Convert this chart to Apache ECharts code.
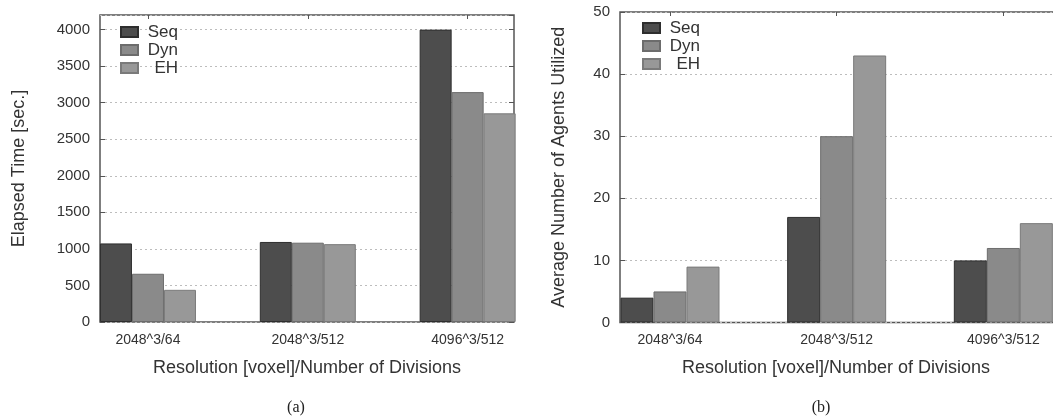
<!DOCTYPE html>
<html><head><meta charset="utf-8">
<script src="https://cdn.jsdelivr.net/npm/echarts@6/dist/echarts.min.js"></script>
<style>html,body{margin:0;padding:0;background:#fff}#c{width:1053px;height:419px}</style>
</head><body><div id="c"></div>
<script>
const categories = ['2048^3/64', '2048^3/512', '4096^3/512'];
const seriesNames = ['Seq', 'Dyn', 'EH'];
const timeSeq = [1075, 1095, 4000];
const timeDyn = [660, 1085, 3145];
const timeEH = [440, 1065, 2855];
const agentsSeq = [4, 17, 10];
const agentsDyn = [5, 30, 12];
const agentsEH = [9, 43, 16];
const xTitle = 'Resolution [voxel]/Number of Divisions';
const yTitleA = 'Elapsed Time [sec.]';
const yTitleB = 'Average Number of Agents Utilized';
const captions = ['(a)', '(b)'];

const FONT = '"Liberation Sans", Arial, Helvetica, sans-serif';
const fills = ['#4d4d4d', '#8a8a8a', '#989898'];
const borders = ['#2e2e2e', '#6c6c6c', '#7a7a7a'];
const catPos = categories.map((c, i) => i);
const pairs = arr => arr.map((v, i) => [catPos[i], v]);

function xAxes(gi, min, max) {
  return [
    { type: 'value', gridIndex: gi, min: min, max: max, position: 'bottom',
      axisLine: { show: false, onZero: false }, axisTick: { show: false }, splitLine: { show: false },
      axisLabel: { customValues: catPos, formatter: v => categories[Math.round(v)],
        fontFamily: FONT, fontSize: 14, color: '#333', margin: 11 } },
    { type: 'value', gridIndex: gi, min: min, max: max, position: 'top',
      axisLine: { show: false, onZero: false }, splitLine: { show: false }, axisLabel: { show: false },
      axisTick: { show: true, inside: true, length: 4, customValues: catPos,
        lineStyle: { color: '#555', width: 1 } } }
  ];
}
function yAxes(gi, max, interval, name, gap) {
  return [
    { type: 'value', gridIndex: gi, min: 0, max: max, interval: interval, position: 'left',
      name: name, nameLocation: 'middle', nameRotate: 90, nameGap: gap,
      nameTextStyle: { fontFamily: FONT, fontSize: 18, color: '#333' },
      axisLine: { show: false, onZero: false },
      axisTick: { show: true, inside: true, length: 5, lineStyle: { color: '#555' } },
      axisLabel: { fontFamily: FONT, fontSize: 15, color: '#333', margin: 10,
        showMaxLabel: max % interval === 0, formatter: v => String(v) },
      splitLine: { show: true, lineStyle: { color: '#bdbdbd', type: [2, 3], width: 1 } } },
    { type: 'value', gridIndex: gi, min: 0, max: max, interval: interval, position: 'right',
      axisLine: { show: false, onZero: false }, axisLabel: { show: false }, splitLine: { show: false },
      axisTick: { show: true, inside: true, length: 5, lineStyle: { color: '#555' } } }
  ];
}
function bars(gi, arrays, width) {
  return arrays.map((arr, k) => ({
    type: 'bar', name: seriesNames[k], xAxisIndex: gi * 2, yAxisIndex: gi * 2,
    data: pairs(arr), barWidth: width, barGap: '0%',
    itemStyle: { color: fills[k], borderColor: borders[k], borderWidth: 1 },
    emphasis: { disabled: true }, animation: false
  }));
}
function legend(left, top) {
  return {
    orient: 'vertical', left: left, top: top, padding: 0, itemWidth: 17, itemHeight: 10, itemGap: 0,
    icon: 'rect', selectedMode: false, data: seriesNames,
    formatter: n => '{r|' + n + '}',
    textStyle: { fontFamily: FONT, fontSize: 17, color: '#333', lineHeight: 18,
      rich: { r: { width: 35, align: 'right', fontFamily: FONT, fontSize: 17, color: '#333', lineHeight: 18 } } }
  };
}

const chart = echarts.init(document.getElementById('c'), null, { renderer: 'canvas' });
chart.setOption({
  animation: false,
  backgroundColor: '#fff',
  grid: [
    { left: 100, top: 15, width: 414, height: 307, show: true, borderColor: '#555', borderWidth: 1.5,
      backgroundColor: 'transparent', outerBoundsMode: 'none' },
    { left: 620, top: 12, width: 500, height: 310.5, show: true, borderColor: '#555', borderWidth: 1.5,
      backgroundColor: 'transparent', outerBoundsMode: 'none' }
  ],
  legend: [legend(120, 23), legend(642, 19)],
  xAxis: [...xAxes(0, -0.3, 2.29), ...xAxes(1, -0.3, 2.7)],
  yAxis: [...yAxes(0, 4200, 500, yTitleA, 72), ...yAxes(1, 50, 10, yTitleB, 52)],
  series: [...bars(0, [timeSeq, timeDyn, timeEH], 32), ...bars(1, [agentsSeq, agentsDyn, agentsEH], 33)],
  graphic: [
    { type: 'text', x: 307, y: 368, style: { text: xTitle, font: '18px ' + FONT, fill: '#333', align: 'center', verticalAlign: 'middle' } },
    { type: 'text', x: 836, y: 368, style: { text: xTitle, font: '18px ' + FONT, fill: '#333', align: 'center', verticalAlign: 'middle' } },
    { type: 'text', x: 296, y: 408, style: { text: captions[0], font: '16px "Liberation Serif", "DejaVu Serif", serif', fill: '#222', align: 'center', verticalAlign: 'middle' } },
    { type: 'text', x: 821, y: 408, style: { text: captions[1], font: '16px "Liberation Serif", "DejaVu Serif", serif', fill: '#222', align: 'center', verticalAlign: 'middle' } }
  ]
});
</script></body></html>
